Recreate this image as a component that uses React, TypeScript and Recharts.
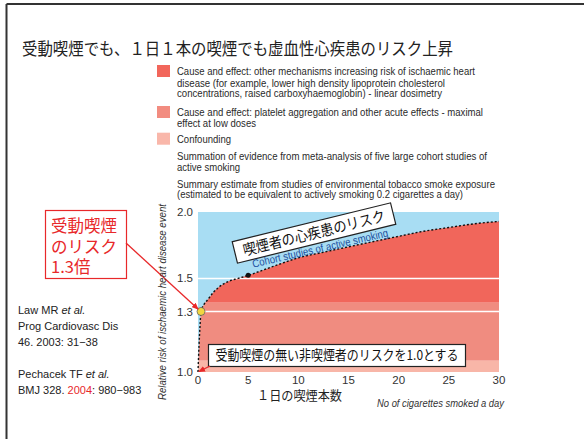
import React from "react";
import {
  ComposedChart,
  Area,
  Line,
  Scatter,
  XAxis,
  YAxis,
} from "recharts";

// cigarettes per day vs relative risk
const cigarettes = [0, 0.1, 0.2, 0.3, 0.6, 1, 1.5, 2, 3, 4, 5, 7.5, 10, 12.5, 15, 17.5, 20, 22.5, 25, 27.5, 30];
const relativeRisk = [1.0, 1.12, 1.22, 1.3, 1.34, 1.37, 1.41, 1.44, 1.48, 1.5, 1.52, 1.58, 1.64, 1.68, 1.72, 1.76, 1.8, 1.84, 1.87, 1.9, 1.92];

// horizontal bands
const riskMin = 1.0;
const confoundingTop = 1.05;
const acuteTop = 1.35;
const riskMax = 2.0;

const gridValues = [1.3, 1.5];
const passivePoint = [{ cig: 0.3, risk: 1.3 }];
const fivePoint = [{ cig: 5, risk: 1.52 }];

const xTicks = [0, 5, 10, 15, 20, 25, 30];
const yTicks = [1.0, 1.3, 1.5, 2.0];

const title = "受動喫煙でも、１日１本の喫煙でも虚血性心疾患のリスク上昇";
const legendItems = [
  { color: "#f2665b", lines: ["Cause and effect: other mechanisms increasing risk of ischaemic heart", "disease (for example, lower high density lipoprotein cholesterol", "concentrations, raised carboxyhaemoglobin) - linear dosimetry"] },
  { color: "#f28c80", lines: ["Cause and effect: platelet aggregation and other acute effects  - maximal", "effect at low doses"] },
  { color: "#f9b7aa", lines: ["Confounding"] },
  { color: null, lines: ["Summation of evidence from meta-analysis of five large cohort studies of", "active smoking"] },
  { color: null, lines: ["Summary estimate from studies of environmental tobacco smoke exposure", "(estimated to be equivalent to actively smoking 0.2 cigarettes a day)"] },
];

const rows = cigarettes.map((c, i) => ({
  cig: c,
  risk: relativeRisk[i],
  sky: [relativeRisk[i], riskMax],
  red: [acuteTop, riskMax],
  salmon: [confoundingTop, acuteTop],
  pink: [riskMin, confoundingTop],
}));

const jp = '"Noto Sans CJK JP", sans-serif';
const narrow = '"Liberation Sans Narrow", "Liberation Sans", Arial, sans-serif';
const sans = '"Liberation Sans", Arial, sans-serif';

const legendY = [[75, 86.7, 97.3], [116, 126.7], [142.7], [160, 171], [187.7, 198.3]];
const legendW = [[298, 268, 265], [306, 79], [54], [310, 63], [318, 286]];

const Overlay = () => (
  <svg width={584} height={439} style={{ position: "absolute", left: 0, top: 0, pointerEvents: "none" }}>
    <defs>
      <marker id="ah" markerWidth="7" markerHeight="6" refX="6" refY="3" orient="auto" markerUnits="userSpaceOnUse">
        <path d="M0,0 L7,3 L0,6 Z" fill="#e8282a" />
      </marker>
    </defs>
    <line x1={6.5} y1={4} x2={584} y2={4} stroke="#333" strokeWidth={2} />
    <line x1={6.5} y1={4} x2={6.5} y2={439} stroke="#333" strokeWidth={2} />
    <text x={22} y={55} fontFamily={jp} fontSize={17} fill="#222" textLength={431} lengthAdjust="spacingAndGlyphs">{title}</text>

    {legendItems.map((item, i) => (
      <g key={i}>
        {item.color && <rect x={157} y={legendY[i][0] - 10} width={13} height={12} fill={item.color} />}
        {item.lines.map((l, j) => (
          <text key={j} x={177} y={legendY[i][j]} fontFamily={narrow} fontSize={10.5} fill="#2a2a2a" textLength={legendW[i][j]} lengthAdjust="spacingAndGlyphs">{l}</text>
        ))}
      </g>
    ))}

    {/* left references */}
    <text x={18} y={313.5} fontFamily={sans} fontSize={11} fill="#222">Law MR <tspan fontStyle="italic">et al.</tspan></text>
    <text x={18} y={329.5} fontFamily={sans} fontSize={11} fill="#222">Prog Cardiovasc Dis</text>
    <text x={18} y={345.5} fontFamily={sans} fontSize={11} fill="#222">46. 2003: 31−38</text>
    <text x={18} y={377.5} fontFamily={sans} fontSize={11} fill="#222">Pechacek TF <tspan fontStyle="italic">et al.</tspan></text>
    <text x={18} y={394} fontFamily={sans} fontSize={11} fill="#222">BMJ 328. <tspan fill="#e8282a">2004</tspan>: 980−983</text>

    {/* red callout */}
    <rect x={45.5} y={210.5} width={81} height={68} fill="#fff" stroke="#e8282a" strokeWidth={1.2} />
    <text x={51} y={232} fontFamily={jp} fontSize={16.5} fill="#e8282a">受動喫煙</text>
    <text x={51} y={252.5} fontFamily={jp} fontSize={16.5} fill="#e8282a">のリスク</text>
    <text x={51} y={273} fontFamily={jp} fontSize={16.5} fill="#e8282a">1.3倍</text>
    <line x1={126} y1={243} x2={198} y2={309} stroke="#e8282a" strokeWidth={1.3} markerEnd="url(#ah)" />

    {/* axis titles */}
    <text transform="translate(166,302) rotate(-90)" textAnchor="middle" fontFamily={narrow} fontStyle="italic" fontSize={10.5} fill="#333" textLength={196} lengthAdjust="spacingAndGlyphs">Relative risk of ischaemic heart disease event</text>
    <text x={257} y={400} fontFamily={jp} fontSize={13} fill="#222" textLength={85} lengthAdjust="spacingAndGlyphs">１日の喫煙本数</text>
    <text x={377} y={407} fontFamily={narrow} fontStyle="italic" fontSize={10.5} fill="#333" textLength={127} lengthAdjust="spacingAndGlyphs">No of cigarettes smoked a day</text>

    {/* smoker box */}
    <g transform="translate(314,233) rotate(-13.8)">
      <rect x={-81.5} y={-11} width={163} height={22} fill="#fff" stroke="#222" strokeWidth={1.2} />
      <text x={0} y={5.5} textAnchor="middle" fontFamily={jp} fontSize={15} fill="#111" textLength={146} lengthAdjust="spacingAndGlyphs">喫煙者の心疾患のリスク</text>
    </g>
    <text transform="translate(321,252) rotate(-13)" textAnchor="middle" fontFamily={narrow} fontSize={11} fill="#1d4f9e" textLength={139} lengthAdjust="spacingAndGlyphs">Cohort studies of active smoking</text>

    {/* non-smoker box */}
    <rect x={208.5} y={344.5} width={257} height={22} fill="#fff" stroke="#222" strokeWidth={1.2} />
    <text x={337} y={360} textAnchor="middle" fontFamily={jp} fontSize={13.5} fill="#111" textLength={243} lengthAdjust="spacingAndGlyphs">受動喫煙の無い非喫煙者のリスクを1.0とする</text>
    <line x1={210} y1={366} x2={199} y2={371.5} stroke="#e8282a" strokeWidth={1.3} markerEnd="url(#ah)" />
  </svg>
);

export default function App() {
  return (
    <div style={{ position: "absolute", left: 0, top: 0, width: 584, height: 439, background: "#fff" }}>
      <ComposedChart width={584} height={439} data={rows} margin={{ top: 212, right: 85, bottom: 0, left: 0 }}>
        <XAxis
          dataKey="cig"
          type="number"
          domain={[0, 30]}
          ticks={xTicks}
          height={67}
          axisLine={false}
          tickLine={false}
          tickSize={0}
          tickMargin={4}
          tick={{ fill: "#333", fontSize: 11.5, fontFamily: narrow }}
        />
        <YAxis
          type="number"
          scale="log"
          domain={[riskMin, riskMax]}
          ticks={yTicks}
          allowDataOverflow
          width={198}
          axisLine={false}
          tickLine={false}
          tickSize={0}
          tickMargin={5}
          tickFormatter={(v: number) => v.toFixed(1)}
          tick={{ fill: "#333", fontSize: 11.5, fontFamily: narrow }}
        />
        <Area dataKey="red" type="linear" fill="#f1665b" fillOpacity={1} stroke="none" isAnimationActive={false} />
        <Area dataKey="salmon" type="linear" fill="#f08c80" fillOpacity={1} stroke="none" isAnimationActive={false} />
        <Area dataKey="pink" type="linear" fill="#f8b6a8" fillOpacity={1} stroke="none" isAnimationActive={false} />
        <Area dataKey="sky" type="monotone" fill="#a8ddf3" fillOpacity={1} stroke="none" isAnimationActive={false} />
        {gridValues.map((g) => (
          <Line key={g} dataKey={() => g} type="linear" stroke="#fff" strokeWidth={1.5} dot={false} isAnimationActive={false} />
        ))}
        <Line dataKey="risk" type="monotone" stroke="#111" strokeWidth={1.4} strokeDasharray="2 2" dot={false} isAnimationActive={false} />
        <Scatter data={fivePoint} dataKey="risk" fill="#111" isAnimationActive={false}
          shape={(p: any) => <circle cx={p.cx} cy={p.cy} r={2.5} fill="#111" />} />
        <Scatter data={passivePoint} dataKey="risk" fill="#f2d640" isAnimationActive={false}
          shape={(p: any) => <circle cx={p.cx} cy={p.cy} r={4} fill="#f2d640" stroke="#666" strokeWidth={0.8} />} />
      </ComposedChart>
      <Overlay />
    </div>
  );
}
